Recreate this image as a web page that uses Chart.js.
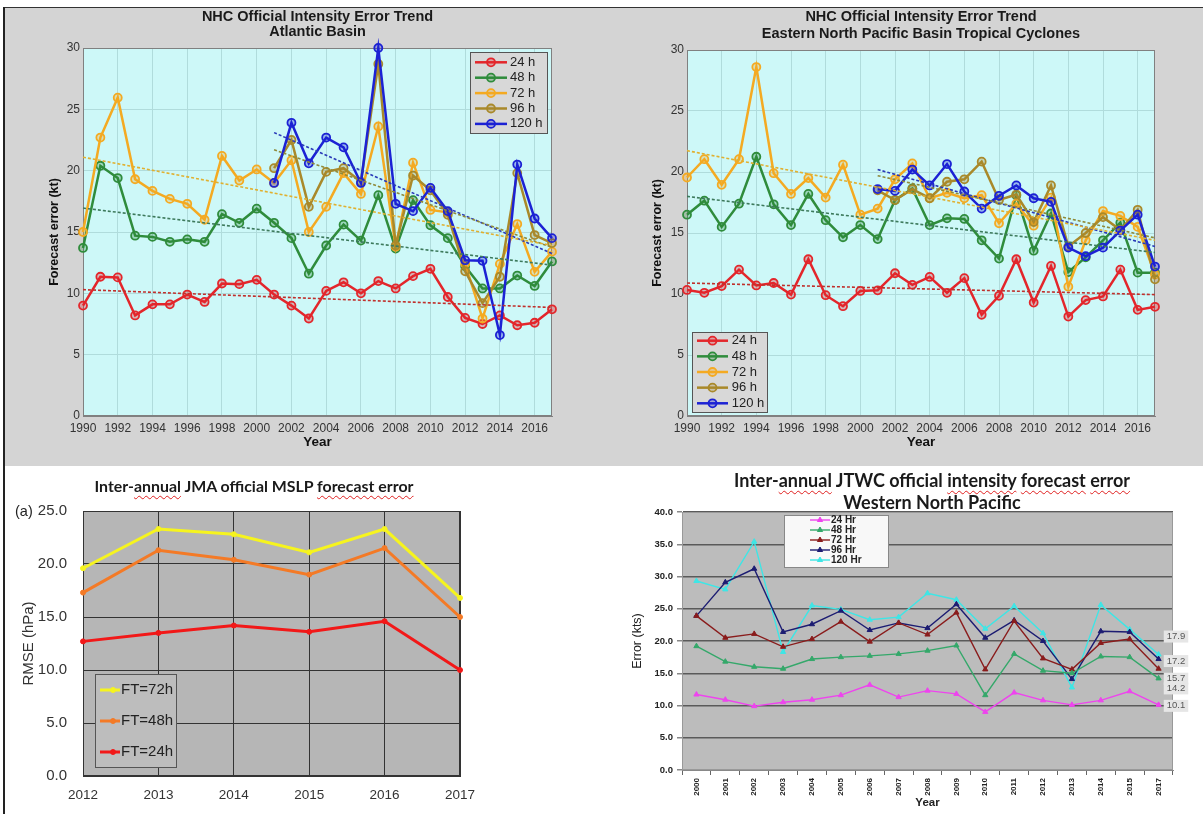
<!DOCTYPE html>
<html>
<head>
<meta charset="utf-8">
<script src="https://cdn.jsdelivr.net/npm/chart.js@4.4.1/dist/chart.umd.min.js"></script>
<style>
body{margin:0;width:1203px;height:814px;position:relative;background:#fff;overflow:hidden;font-family:"Liberation Sans",Arial,sans-serif}
.gray{position:absolute;left:4px;top:7px;width:1199px;height:458px;background:#d4d4d4;border-top:1.5px solid #333}
.vline{position:absolute;left:3px;top:7px;width:1.5px;height:807px;background:#222}
canvas{position:absolute}
.ttl{position:absolute;text-align:center;font-weight:bold;color:#1a1a1a;white-space:nowrap}
.cal{font-family:Lato,"Liberation Sans",sans-serif}
.w{text-decoration:underline wavy #e02020;text-decoration-thickness:1px;text-underline-offset:3px}
</style>
</head>
<body>
<div class="gray"></div>
<div class="vline"></div>

<canvas id="atl" width="593" height="448" style="left:5px;top:7px"></canvas>
<canvas id="enp" width="603" height="448" style="left:600px;top:7px"></canvas>
<canvas id="jma" width="590" height="348" style="left:5px;top:466px"></canvas>
<canvas id="jtwc" width="603" height="348" style="left:600px;top:466px"></canvas>

<div class="ttl" style="left:83px;width:469px;top:9px;font-size:14.5px;line-height:15px">NHC Official Intensity Error Trend<br>Atlantic Basin</div>
<div class="ttl" style="left:687px;width:468px;top:8px;font-size:14.5px;line-height:17px">NHC Official Intensity Error Trend<br>Eastern North Pacific Basin Tropical Cyclones</div>
<div class="ttl cal" style="left:54px;width:400px;top:476px;font-size:15.9px;line-height:20px">Inter-<span class="w">annual</span> JMA official MSLP <span class="w">forecast error</span></div>
<div style="position:absolute;left:15px;top:503px;font-size:14.5px;color:#222">(a)</div>
<div class="ttl cal" style="left:732px;width:400px;top:470px;font-size:18px;line-height:21.6px">Inter-<span class="w">annual</span> JTWC official <span class="w">intensity</span> <span class="w">forecast</span> <span class="w">error</span><br>Western North Pacific</div>

<script>
// ---- NHC data (kt) ----
const YEARS = [1990,1991,1992,1993,1994,1995,1996,1997,1998,1999,2000,2001,2002,2003,2004,2005,2006,2007,2008,2009,2010,2011,2012,2013,2014,2015,2016,2017];
const LATE_YEARS = [2001,2002,2003,2004,2005,2006,2007,2008,2009,2010,2011,2012,2013,2014,2015,2016,2017];
const TREND_X = [1990, 2017];
const TREND_X_LATE = [2001, 2017];

const atl24 = [9.0,11.35,11.3,8.2,9.1,9.1,9.9,9.3,10.8,10.75,11.1,9.9,9.0,7.95,10.2,10.9,10.0,11.0,10.4,11.4,12.0,9.7,8.0,7.5,8.2,7.4,7.6,8.7];
const atl48 = [13.7,20.4,19.4,14.7,14.6,14.2,14.4,14.2,16.45,15.75,16.9,15.75,14.5,11.6,13.9,15.6,14.3,18.0,13.65,17.6,15.55,14.5,12.2,10.4,10.4,11.45,10.6,12.6];
const atl72 = [15.0,22.7,25.95,19.3,18.35,17.7,17.3,16.0,21.2,19.2,20.1,19.0,20.85,15.0,17.05,19.8,18.1,23.6,13.8,20.65,16.8,16.6,12.4,7.95,12.4,15.65,11.75,13.4];
const atl96 = [20.2,22.5,17.05,19.9,20.2,19.1,28.7,13.9,19.6,18.4,16.4,11.8,9.2,11.35,19.8,14.75,14.1];
const atl120 = [19.0,23.9,20.6,22.7,21.9,19.0,30.0,17.3,16.7,18.6,16.7,12.7,12.65,6.6,20.5,16.1,14.5];
const atlTrend24 = [10.3, 8.85];
const atlTrend48 = [16.95, 12.3];
const atlTrend72 = [21.1, 13.9];
const atlTrend96 = [21.7, 13.75];
const atlTrend120 = [23.1, 13.25];

const enp24 = [10.33,10.1,10.65,12.0,10.7,10.9,9.95,12.85,9.9,9.0,10.25,10.3,11.7,10.75,11.4,10.1,11.3,8.3,9.85,12.85,9.3,12.3,8.15,9.5,9.8,12.0,8.7,8.95];
const enp48 = [16.5,17.65,15.5,17.4,21.25,17.35,15.65,18.2,16.05,14.65,15.65,14.5,17.7,18.65,15.65,16.2,16.15,14.4,12.9,18.1,13.55,16.6,11.8,13.0,14.4,15.85,11.75,11.75];
const enp72 = [19.55,21.05,18.95,21.05,28.6,19.9,18.2,19.5,17.9,20.6,16.5,17.0,19.4,20.7,17.85,18.3,17.85,18.1,15.8,17.4,15.6,17.9,10.6,14.4,16.8,16.4,15.5,11.6];
const enp96 = [18.5,17.7,18.6,17.85,19.2,19.4,20.85,17.7,18.15,15.9,18.9,13.9,15.0,16.3,15.25,16.9,11.2];
const enp120 = [18.6,18.45,20.2,18.9,20.65,18.4,17.0,18.05,18.9,17.85,17.55,13.8,13.1,13.8,15.2,16.5,12.25];
const enpTrend24 = [10.9, 9.95];
const enpTrend48 = [18.0, 13.4];
const enpTrend72 = [21.75, 14.4];
const enpTrend96 = [19.7, 14.6];
const enpTrend120 = [20.2, 13.9];

// ---- JMA MSLP RMSE (hPa) ----
const JMA_YEARS = ['2012','2013','2014','2015','2016','2017'];
const ft72 = [19.6,23.3,22.8,21.1,23.3,16.8];
const ft48 = [17.3,21.3,20.4,19.0,21.5,15.0];
const ft24 = [12.7,13.5,14.2,13.6,14.6,10.0];

// ---- JTWC intensity error (kts) ----
const JTWC_YEARS = ['2000','2001','2002','2003','2004','2005','2006','2007','2008','2009','2010','2011','2012','2013','2014','2015','2017'];
const hr24 = [11.7,10.9,9.9,10.5,10.9,11.6,13.2,11.3,12.3,11.8,9.0,12.0,10.8,10.1,10.8,12.2,10.1];
const hr48 = [19.2,16.8,16.0,15.7,17.2,17.5,17.7,18.0,18.5,19.3,11.6,18.0,15.4,15.0,17.6,17.5,14.2];
const hr72 = [23.9,20.5,21.1,19.1,20.3,23.0,19.9,22.8,21.0,24.4,15.6,23.1,17.3,15.6,19.7,20.3,15.7];
const hr96 = [23.9,29.1,31.2,21.4,22.6,24.7,21.7,22.8,22.0,25.7,20.5,23.2,20.0,14.1,21.5,21.4,17.2];
const hr120 = [29.3,28.0,35.4,18.3,25.5,24.9,23.3,23.7,27.4,26.4,21.9,25.4,21.2,12.8,25.6,21.8,17.9];

Chart.defaults.font.family = '"Liberation Sans", Arial, sans-serif';
Chart.defaults.animation = false;
Chart.defaults.events = [];
Chart.defaults.plugins.legend.display = false;
Chart.defaults.plugins.tooltip.enabled = false;

// fill plot area + frame
const plotBg = {
  id: 'plotBg',
  beforeDraw(chart, args, o) {
    const {ctx, chartArea: a} = chart;
    ctx.save();
    ctx.fillStyle = o.color;
    ctx.fillRect(a.left, a.top, a.right - a.left, a.bottom - a.top);
    ctx.restore();
  },
  beforeDatasetsDraw(chart, args, o) {
    if (!o.frame) return;
    const {ctx, chartArea: a} = chart;
    ctx.save();
    ctx.strokeStyle = o.frame;
    ctx.lineWidth = 1;
    ctx.strokeRect(Math.round(a.left) + 0.5, Math.round(a.top) + 0.5, Math.round(a.right - a.left) - 1, Math.round(a.bottom - a.top) - 1);
    ctx.restore();
  }
};

// legend box drawn inside the plot
const boxLegend = {
  id: 'boxLegend',
  afterDraw(chart, args, o) {
    const ctx = chart.ctx;
    ctx.save();
    ctx.fillStyle = o.bg;
    ctx.fillRect(o.x, o.y, o.w, o.h);
    ctx.strokeStyle = o.border;
    ctx.lineWidth = 1;
    ctx.strokeRect(o.x + 0.5, o.y + 0.5, o.w, o.h);
    const items = chart.data.datasets.filter(d => !d.trend);
    items.forEach((d, i) => {
      const y = o.firstY + i * o.rowH;
      ctx.setLineDash([]);
      ctx.strokeStyle = d.borderColor;
      ctx.lineWidth = d.borderWidth;
      ctx.beginPath();
      ctx.moveTo(o.lineX0, y);
      ctx.lineTo(o.lineX1, y);
      ctx.stroke();
      ctx.fillStyle = d.pointBackgroundColor;
      ctx.strokeStyle = d.pointBorderColor;
      ctx.lineWidth = d.pointBorderWidth;
      Chart.helpers.drawPoint(ctx, {pointStyle: d.pointStyle || 'circle', rotation: 0, radius: d.pointRadius, borderWidth: d.pointBorderWidth},
        o.markerX || (o.lineX0 + o.lineX1) / 2, y);
      ctx.fillStyle = o.color;
      ctx.font = o.font;
      ctx.textBaseline = 'middle';
      ctx.textAlign = 'left';
      ctx.fillText(d.label, o.textX, y);
    });
    ctx.restore();
  }
};

// value labels at the end of each JTWC line
const endLabels = {
  id: 'endLabels',
  afterDatasetsDraw(chart, args, o) {
    const ctx = chart.ctx, ys = chart.scales.y;
    ctx.save();
    ctx.font = o.font;
    ctx.textAlign = 'center';
    ctx.textBaseline = 'middle';
    chart.data.datasets.forEach((d, i) => {
      const v = d.data[d.data.length - 1];
      const y = ys.getPixelForValue(v) + o.nudge[i];
      const t = v.toFixed(1);
      const w = ctx.measureText(t).width + 6;
      ctx.fillStyle = o.bg;
      ctx.fillRect(o.x - w / 2, y - 6, w, 12);
      ctx.fillStyle = o.color;
      ctx.fillText(t, o.x, y);
    });
    ctx.restore();
  }
};

function pts(xs, ys) { return xs.map((x, i) => ({x: x, y: ys[i]})); }

function nhcSeries(label, color, fill, xs, ys, order) {
  return {label: label, data: pts(xs, ys), borderColor: color, backgroundColor: color, borderWidth: 2.5,
    pointRadius: 4, pointBorderWidth: 1.8, pointBorderColor: color, pointBackgroundColor: fill,
    order: order, clip: false};
}
function trendLine(color, xs, ys) {
  return {trend: true, label: '', data: pts(xs, ys), borderColor: color, borderWidth: 1.6, borderDash: [3, 2],
    pointRadius: 0, order: 0, clip: false};
}

const C24 = '#e3262b', C48 = '#2f8c3c', C72 = '#f4aa22', C96 = '#a9892a', C120 = '#1c22d4';

function nhcOptions(pad, yW, legendBox) {
  return {
    responsive: false,
    layout: {padding: pad},
    scales: {
      x: {type: 'linear', min: 1990, max: 2017,
        afterFit: s => { s.height = 34.8; },
        ticks: {stepSize: 2, includeBounds: false, callback: v => String(v), font: {size: 12}, color: '#333', padding: 5},
        grid: {color: '#b0dcdc', drawTicks: false},
        border: {color: '#808080'},
        title: {display: true, text: 'Year', font: {size: 13.5, weight: 'bold'}, color: '#111', padding: 0}},
      y: {min: 0, max: 30,
        afterFit: s => { s.width = yW; },
        ticks: {stepSize: 5, font: {size: 12}, color: '#333', padding: 3},
        grid: {color: '#b0dcdc', drawTicks: false},
        border: {color: '#808080'},
        title: {display: true, text: 'Forecast error (kt)', font: {size: 12.5, weight: 'bold'}, color: '#111', padding: 0}}
    },
    plugins: {plotBg: {color: '#cdf8f8', frame: '#808080'}, boxLegend: legendBox}
  };
}

// ATLANTIC
new Chart(document.getElementById('atl'), {
  type: 'line',
  data: {datasets: [
    nhcSeries('24 h', C24, 'rgba(227,38,43,0.3)', YEARS, atl24, 5),
    nhcSeries('48 h', C48, 'rgba(47,140,60,0.3)', YEARS, atl48, 4),
    nhcSeries('72 h', C72, 'rgba(244,170,34,0.3)', YEARS, atl72, 3),
    nhcSeries('96 h', C96, 'rgba(169,137,42,0.3)', LATE_YEARS, atl96, 2),
    nhcSeries('120 h', C120, 'rgba(28,34,212,0.3)', LATE_YEARS, atl120, 1),
    trendLine('#c0302c', TREND_X, atlTrend24),
    trendLine('#3d7a5c', TREND_X, atlTrend48),
    trendLine('#e0b030', TREND_X, atlTrend72),
    trendLine('#8f8a3a', TREND_X_LATE, atlTrend96),
    trendLine('#2a3ab8', TREND_X_LATE, atlTrend120)
  ]},
  options: nhcOptions({left: 42.5, top: 41, right: 46, bottom: 4.2}, 35.5,
    {x: 465, y: 45, w: 77, h: 81, firstY: 55.3, rowH: 15.4, lineX0: 470, lineX1: 502, textX: 505,
     bg: '#d8d8d8', border: '#555', color: '#222', font: '13px "Liberation Sans", Arial, sans-serif'}),
  plugins: [plotBg, boxLegend]
});

// EASTERN NORTH PACIFIC
new Chart(document.getElementById('enp'), {
  type: 'line',
  data: {datasets: [
    nhcSeries('24 h', C24, 'rgba(227,38,43,0.3)', YEARS, enp24, 5),
    nhcSeries('48 h', C48, 'rgba(47,140,60,0.3)', YEARS, enp48, 4),
    nhcSeries('72 h', C72, 'rgba(244,170,34,0.3)', YEARS, enp72, 3),
    nhcSeries('96 h', C96, 'rgba(169,137,42,0.3)', LATE_YEARS, enp96, 2),
    nhcSeries('120 h', C120, 'rgba(28,34,212,0.3)', LATE_YEARS, enp120, 1),
    trendLine('#c0302c', TREND_X, enpTrend24),
    trendLine('#3d7a5c', TREND_X, enpTrend48),
    trendLine('#e0b030', TREND_X, enpTrend72),
    trendLine('#8f8a3a', TREND_X_LATE, enpTrend96),
    trendLine('#2a3ab8', TREND_X_LATE, enpTrend120)
  ]},
  options: nhcOptions({left: 49.8, top: 43, right: 48, bottom: 4.2}, 37.2,
    {x: 92, y: 325, w: 75, h: 80, firstY: 333.7, rowH: 15.65, lineX0: 97, lineX1: 128, textX: 131.7,
     bg: '#d8d8d8', border: '#555', color: '#222', font: '13px "Liberation Sans", Arial, sans-serif'}),
  plugins: [plotBg, boxLegend]
});

// JMA
function jmaSeries(label, color, values) {
  return {label: label, data: values, borderColor: color, backgroundColor: color, borderWidth: 3,
    pointRadius: 2.5, pointBorderWidth: 1, pointBorderColor: color, pointBackgroundColor: color, clip: false};
}
new Chart(document.getElementById('jma'), {
  type: 'line',
  data: {labels: JMA_YEARS, datasets: [
    jmaSeries('FT=72h', '#f6f41e', ft72),
    jmaSeries('FT=48h', '#f47a26', ft48),
    jmaSeries('FT=24h', '#f21818', ft24)
  ]},
  options: {
    responsive: false,
    layout: {padding: {left: 15.3, top: 45, right: 135, bottom: 4}},
    scales: {
      x: {type: 'category', offset: false,
        afterFit: s => { s.height = 34; },
        ticks: {font: {size: 13.5}, color: '#333', padding: 11},
        grid: {color: '#333', drawTicks: false},
        border: {color: '#333'}},
      y: {min: 0, max: 25,
        afterFit: s => { s.width = 62.7; },
        ticks: {stepSize: 5, callback: v => v.toFixed(1), font: {size: 15}, color: '#333', padding: 16},
        grid: {color: '#333', drawTicks: false},
        border: {color: '#333'},
        title: {display: true, text: 'RMSE (hPa)', font: {size: 15}, color: '#333', padding: 0}}
    },
    plugins: {
      plotBg: {color: '#b6b6b6', frame: '#333'},
      boxLegend: {x: 90, y: 208, w: 81, h: 93, firstY: 224, rowH: 31, lineX0: 95, lineX1: 115, markerX: 108, textX: 116,
        bg: '#bdbdbd', border: '#555', color: '#222', font: '15px "Liberation Sans", Arial, sans-serif'}
    }
  },
  plugins: [plotBg, boxLegend]
});

// JTWC
function jtwcSeries(label, color, values) {
  return {label: label, data: values, borderColor: color, backgroundColor: color, borderWidth: 1.4,
    pointStyle: 'triangle', pointRadius: 3, pointBorderWidth: 1, pointBorderColor: color, pointBackgroundColor: color, clip: false};
}
new Chart(document.getElementById('jtwc'), {
  type: 'line',
  data: {labels: JTWC_YEARS, datasets: [
    jtwcSeries('24 Hr', '#ee44ee', hr24),
    jtwcSeries('48 Hr', '#34a86a', hr48),
    jtwcSeries('72 Hr', '#8a1c1c', hr72),
    jtwcSeries('96 Hr', '#1c1c72', hr96),
    jtwcSeries('120 Hr', '#3ee6e6', hr120)
  ]},
  options: {
    responsive: false,
    layout: {padding: {left: 30.5, top: 46, right: 30, bottom: 0}},
    scales: {
      x: {type: 'category', offset: true,
        afterFit: s => { s.height = 44; },
        ticks: {font: {size: 8, weight: 'bold'}, color: '#222', minRotation: 90, maxRotation: 90, autoSkip: false, padding: 3},
        grid: {offset: true, drawOnChartArea: false, drawTicks: true, tickLength: 5, color: '#666'},
        border: {color: '#888'},
        title: {display: true, text: 'Year', font: {size: 11.5, weight: 'bold'}, color: '#222', padding: {top: 0, bottom: 4.4}}},
      y: {min: 0, max: 40,
        afterFit: s => { s.width = 51.5; },
        ticks: {stepSize: 5, callback: v => v.toFixed(1), font: {size: 9.5, weight: 'bold'}, color: '#222', padding: 4},
        grid: {color: '#5a5a5a', lineWidth: 1.5, drawTicks: true, tickLength: 5, tickColor: '#888'},
        border: {color: '#888'},
        title: {display: true, text: 'Error (kts)', font: {size: 12.5}, color: '#222', padding: 0}}
    },
    plugins: {
      plotBg: {color: '#bcbcbc', frame: '#999'},
      boxLegend: {x: 184, y: 49, w: 104, h: 52, firstY: 54, rowH: 10, lineX0: 210, lineX1: 230, textX: 231,
        bg: '#f8f8f8', border: '#888', color: '#222', font: 'bold 10px "Liberation Sans", Arial, sans-serif'},
      endLabels: {x: 576, nudge: [1, 10, 10, 2, -18], bg: '#e6e6e6', color: '#555', font: '9.5px "Liberation Sans", Arial, sans-serif'}
    }
  },
  plugins: [plotBg, boxLegend, endLabels]
});
</script>
</body>
</html>
